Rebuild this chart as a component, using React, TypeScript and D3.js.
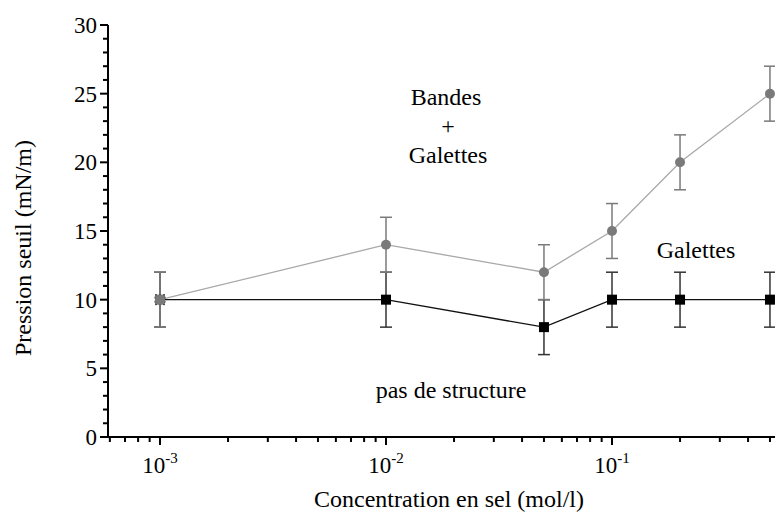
import { useEffect, useRef } from 'react';
import * as d3 from 'd3';

const concentrations = [0.001, 0.01, 0.05, 0.1, 0.2, 0.5];
const grayValues = [10, 14, 12, 15, 20, 25];
const blackValues = [10, 10, 8, 10, 10, 10];
const errors = [2, 2, 2, 2, 2, 2];
const yTicks = [0, 5, 10, 15, 20, 25, 30];
const xDecades = [-3, -2, -1];

export default function App() {
    const svgRef = useRef<SVGSVGElement>(null);

    useEffect(() => {
        if (!svgRef.current) return;
        const W = 783;
        const left = 108, top = 25, bottom = 437;
        const font = '"Liberation Serif", "Times New Roman", serif';

        const svg = d3.select(svgRef.current);
        svg.selectAll('*').remove();

        const x = d3.scaleLog().domain([Math.pow(10, -3 - 52 / 226), Math.pow(10, -1 + 171 / 226)]).range([left, W]);
        const y = d3.scaleLinear().domain([0, 30]).range([bottom, top]);

        // Y axis: majors every 5, minors every 1
        const ga = svg.append('g').attr('stroke', '#000');
        ga.append('line').attr('x1', left).attr('x2', left).attr('y1', top).attr('y2', bottom).attr('stroke-width', 2);
        for (let v = 0; v <= 30; v++) {
            const major = v % 5 === 0;
            ga.append('line')
                .attr('x1', left - (major ? 8 : 5)).attr('x2', left)
                .attr('y1', y(v)).attr('y2', y(v)).attr('stroke-width', 2);
        }
        svg.selectAll('.ytl').data(yTicks).join('text')
            .attr('class', 'ytl')
            .attr('x', left - 11).attr('y', d => y(d) + 8)
            .attr('text-anchor', 'end').attr('font-size', 23).attr('font-family', font)
            .text(d => d);

        // X axis (log) with minor ticks
        ga.append('line').attr('x1', left).attr('x2', W).attr('y1', bottom).attr('y2', bottom).attr('stroke-width', 2);
        const [d0, d1] = x.domain();
        for (let e = -4; e <= 0; e++) {
            for (let m = 1; m <= 9; m++) {
                const v = m * Math.pow(10, e);
                if (v < d0 || v > d1) continue;
                ga.append('line')
                    .attr('x1', x(v)).attr('x2', x(v))
                    .attr('y1', bottom).attr('y2', bottom + (m === 1 ? 8 : 5))
                    .attr('stroke-width', 2);
            }
        }
        const xl = svg.selectAll('.xtl').data(xDecades).join('text')
            .attr('class', 'xtl')
            .attr('x', d => x(Math.pow(10, d))).attr('y', bottom + 36)
            .attr('text-anchor', 'middle').attr('font-size', 23).attr('font-family', font);
        xl.append('tspan').text('10');
        xl.append('tspan').attr('dy', -10).attr('font-size', 15).text(d => `${d}`);

        // Axis titles
        svg.append('text')
            .attr('x', 449).attr('y', 507)
            .attr('text-anchor', 'middle').attr('font-size', 24).attr('font-family', font)
            .text('Concentration en sel (mol/l)');
        svg.append('text')
            .attr('transform', `translate(31,248) rotate(-90)`)
            .attr('text-anchor', 'middle').attr('font-size', 24).attr('font-family', font)
            .text('Pression seuil (mN/m)');

        const drawSeries = (vals: number[], lineColor: string, barColor: string) => {
            const line = d3.line<number>().x((_, i) => x(concentrations[i])).y(d => y(d));
            svg.append('path').attr('d', line(vals)).attr('fill', 'none').attr('stroke', lineColor).attr('stroke-width', 1.3);
            const g = svg.append('g').attr('stroke', barColor).attr('stroke-width', 1.5);
            vals.forEach((v, i) => {
                const cx = x(concentrations[i]);
                g.append('line').attr('x1', cx).attr('x2', cx).attr('y1', y(v - errors[i])).attr('y2', y(v + errors[i]));
                g.append('line').attr('x1', cx - 6).attr('x2', cx + 6).attr('y1', y(v - errors[i])).attr('y2', y(v - errors[i]));
                g.append('line').attr('x1', cx - 6).attr('x2', cx + 6).attr('y1', y(v + errors[i])).attr('y2', y(v + errors[i]));
            });
        };

        drawSeries(blackValues, '#111', '#333');
        drawSeries(grayValues, '#a8a8a8', '#7a7a7a');

        svg.selectAll('.sq').data(blackValues).join('rect')
            .attr('class', 'sq')
            .attr('x', (_, i) => x(concentrations[i]) - 5).attr('y', d => y(d) - 5)
            .attr('width', 10).attr('height', 10)
            .attr('fill', (_, i) => (i === 0 ? '#7a7a7a' : '#000'))
            .attr('stroke', (_, i) => (i === 0 ? '#444' : 'none'))
            .attr('stroke-dasharray', '2,2');
        svg.selectAll('.ci').data(grayValues).join('circle')
            .attr('class', 'ci')
            .attr('cx', (_, i) => x(concentrations[i])).attr('cy', d => y(d))
            .attr('r', 5).attr('fill', '#7a7a7a');

        // Region annotations
        const ann = svg.append('g').attr('font-size', 24).attr('font-family', font).attr('text-anchor', 'middle');
        ann.append('text').attr('x', 446).attr('y', 105).text('Bandes');
        ann.append('text').attr('x', 448).attr('y', 134).text('+');
        ann.append('text').attr('x', 448).attr('y', 163).text('Galettes');
        ann.append('text').attr('x', 696).attr('y', 258).text('Galettes');
        ann.append('text').attr('x', 451).attr('y', 398).text('pas de structure');
    }, []);

    return <svg ref={svgRef} width={783} height={521} style={{ display: 'block', margin: -8 }} />;
}
